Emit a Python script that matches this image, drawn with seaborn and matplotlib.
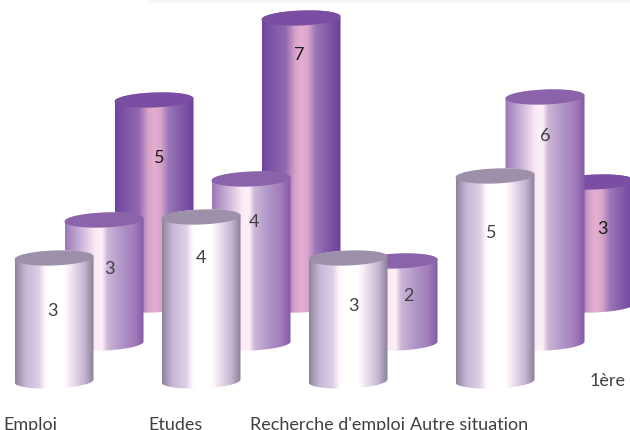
import numpy as np
import pandas as pd
import matplotlib
matplotlib.use("Agg")
import matplotlib.pyplot as plt
from matplotlib.colors import LinearSegmentedColormap
from matplotlib.patches import Polygon, Rectangle
import seaborn as sns

# ---- data ----
categories = ["Emploi", "Etudes", "Recherche d'emploi", "Autre situation"]
front_values = [3, 4, 3, 5]
middle_values = [3, 4, 2, 6]
back_values = [5, 7, None, 3]
depth_label = "1ère"

# ---- layout (pixels of the 630x430 figure) ----
W, H = 630, 430
AX_BOTTOM_PX = 414
X0_PX, DX_PX = 54, 147          # first group centre, group spacing
Y0_PX, UNIT_PX = 381, 41        # front baseline, px per unit
DEPTH_X_PX, DEPTH_Y_PX = 50, 38 # shift per depth row
BAR_W_PX = 79
RY_PX = 7.5
TILT_PX = 1.5

sns.set_theme(style="white")
plt.rcParams["font.family"] = ["Lato", "DejaVu Sans"]
TEXT = "#404040"

fig = plt.figure(figsize=(W / 100, H / 100), dpi=100, facecolor="white")
ax = fig.add_axes([0, 1 - AX_BOTTOM_PX / H, 1, AX_BOTTOM_PX / H])
xlim = (-X0_PX / DX_PX, (W - X0_PX) / DX_PX)
ylim = ((Y0_PX - AX_BOTTOM_PX) / UNIT_PX, Y0_PX / UNIT_PX)

styles = {
    "front": dict(
        depth=0, z=30, top="#9d90ab",
        stops=[(0, "#8b8398"), (0.05, "#a598b4"), (0.14, "#c8b8d8"), (0.3, "#dccfe6"),
               (0.38, "#fff6fc"), (0.42, "#ffffff"), (0.62, "#ffffff"), (0.68, "#fbeef7"),
               (0.75, "#e6daec"), (0.88, "#c5b5d2"), (0.96, "#9c91a9"), (1, "#8a8297")],
    ),
    "middle": dict(
        depth=1, z=20, top="#8a63ab",
        stops=[(0, "#9a78b6"), (0.12, "#b79ccb"), (0.3, "#e6d0e6"), (0.38, "#fbeaf5"),
               (0.47, "#fdf0f8"), (0.54, "#cdb6d6"), (0.72, "#b095c8"), (0.88, "#a27cba"),
               (1, "#825aa6")],
    ),
    "back": dict(
        depth=2, z=10, top="#7a4ea2",
        stops=[(0, "#6f44a0"), (0.15, "#8058a8"), (0.3, "#9468b2"), (0.42, "#d7a3c9"),
               (0.5, "#e6aecf"), (0.58, "#d9a5cb"), (0.68, "#9a78b8"), (0.85, "#8058a8"),
               (1, "#6c3f9c")],
    ),
}
series = [("back", back_values), ("middle", middle_values), ("front", front_values)]

# value-label offsets from the bar top (px), in the order of the drawn bars
label_offsets = {
    "back": [(5, 58), (-2, 37), (7, 47)],
    "middle": [(5, 49), (3, 43), (10, 35), (0, 39)],
    "front": [(-2, 53), (0, 41), (5, 48), (-4, 57)],
}

ry = RY_PX / UNIT_PX
tilt = TILT_PX / UNIT_PX


def ellipse(cx, cy, rx, t):
    return np.column_stack([cx + rx * np.cos(t), cy + ry * np.sin(t) + tilt * np.cos(t)])


for name, vals in series:
    st = styles[name]
    df = pd.DataFrame({"group": np.arange(len(vals)), "value": vals}).dropna()
    base = st["depth"] * DEPTH_Y_PX / UNIT_PX
    x_shift = st["depth"] * DEPTH_X_PX / DX_PX
    df["pos"] = df["group"] + x_shift
    n_before = len(ax.patches)
    sns.barplot(data=df, x="pos", y="value", native_scale=True, ax=ax,
                width=BAR_W_PX / DX_PX, bottom=base, color="white", linewidth=0,
                errorbar=None, zorder=st["z"])
    bars = ax.patches[n_before:]
    cmap = LinearSegmentedColormap.from_list(name, st["stops"])
    grad = np.linspace(0, 1, 256).reshape(1, -1)
    for bar, (dx, dy) in zip(bars, label_offsets[name]):
        bar.set_alpha(0)
        x, w = bar.get_x(), bar.get_width()
        y0, h = bar.get_y(), bar.get_height()
        cx, rx, top = x + w / 2, w / 2, y0 + h
        lower = ellipse(cx, y0, rx, np.linspace(np.pi, 2 * np.pi, 50))
        upper = ellipse(cx, top, rx, np.linspace(0, np.pi, 50))
        body = Polygon(np.vstack([lower, upper]), closed=True, transform=ax.transData,
                       fc="none", ec="none")
        ax.add_patch(body)
        im = ax.imshow(grad, extent=(x, x + w, y0 - 2 * ry, top + 2 * ry), aspect="auto",
                       cmap=cmap, zorder=st["z"], interpolation="bilinear")
        im.set_clip_path(body)
        cap = ellipse(cx, top, rx, np.linspace(0, 2 * np.pi, 100))
        ax.add_patch(Polygon(cap, closed=True, fc=st["top"], ec="none", zorder=st["z"] + 1))
        ax.annotate(f"{h:.0f}", xy=(cx, top), xytext=(dx * 0.72, -dy * 0.72),
                    textcoords="offset points", ha="center", va="center", fontsize=13,
                    color="#1a1a1a" if name == "back" else TEXT, zorder=40)

ax.set_xlim(xlim)
ax.set_ylim(ylim)
ax.set_xlabel("")
ax.set_ylabel("")
ax.set_yticks([])
for sp in ax.spines.values():
    sp.set_visible(False)
ax.patch.set_alpha(0)

tick_px = np.array([30, 176, 328, 469])
ax.set_xticks((tick_px - X0_PX) / DX_PX)
ax.set_xticklabels(categories, fontsize=13, color=TEXT)
ax.tick_params(axis="x", length=0, pad=2.5)

fig.text(608 / W, 1 - 381 / H, depth_label, ha="center", va="center", fontsize=13, color=TEXT)
fig.add_artist(Rectangle((148 / W, 1 - 3 / H), 1 - 148 / W, 3 / H, transform=fig.transFigure,
                         fc="#f6f6f6", ec="none"))

fig.savefig("out.png", dpi=100)
